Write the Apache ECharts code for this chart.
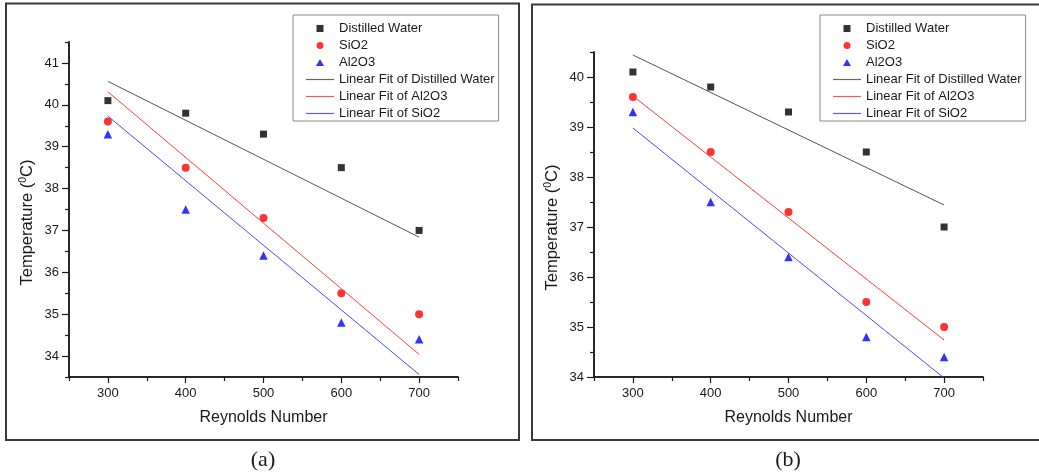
<!DOCTYPE html>
<html>
<head>
<meta charset="utf-8">
<title>Temperature vs Reynolds Number</title>
<script src="https://cdn.jsdelivr.net/npm/echarts@6/dist/echarts.min.js"></script>
<style>
  html, body { margin: 0; padding: 0; background: #fff; }
  #chart { width: 1039px; height: 473px; }
</style>
</head>
<body>
<div id="chart"></div>
<script>
// Measured outlet temperatures (°C) at each Reynolds number
const reynolds = [300, 400, 500, 600, 700];
const distilledWater = [40.1, 39.8, 39.3, 38.5, 37.0];
const sio2 = [39.6, 38.5, 37.3, 35.5, 35.0];
const al2o3 = [39.3, 37.5, 36.4, 34.8, 34.4];

// Linear-fit lines, given by their values at the two ends (Re = 300 and Re = 700)
const fitEnds = [300, 700];
const fitWaterA = [40.56, 36.84];
const fitRedA = [40.31, 34.04];
const fitBlueA = [39.73, 33.56];
const fitWaterB = [40.44, 37.44];
const fitRedB = [39.62, 34.74];
const fitBlueB = [38.98, 33.98];

// Tick positions
const xMajorTicks = [300, 400, 500, 600, 700];
const xMinorTicks = [250, 350, 450, 550, 650, 750];
const yMajorTicksA = [34, 35, 36, 37, 38, 39, 40, 41];
const yMinorTicksA = [33.5, 34.5, 35.5, 36.5, 37.5, 38.5, 39.5, 40.5, 41.5];
const yMajorTicksB = [34, 35, 36, 37, 38, 39, 40];
const yMinorTicksB = [34.5, 35.5, 36.5, 37.5, 38.5, 39.5, 40.5];

const legendNames = ['Distilled Water', 'SiO2', 'Al2O3',
  'Linear Fit of Distilled Water', 'Linear Fit of Al2O3', 'Linear Fit of SiO2'];
const panelCaptions = ['(a)', '(b)'];

const SANS = '"Liberation Sans", Arial, sans-serif';
const SERIF = '"Liberation Serif", "Times New Roman", serif';
const INK = '#1a1a1a';

// Legend glyphs: path icons keep their aspect, so markers stay square-ish
// inside the wide icon slot and fit lines become a thin full-width stroke.
const ICON_SQUARE = 'path://M0,0h10v10h-10z';
const ICON_CIRCLE = 'path://M0,5a5,5 0 1,0 10,0a5,5 0 1,0 -10,0z';
const ICON_TRIANGLE = 'path://M5.5,0L11,9.5L0,9.5z';
const ICON_LINE = 'path://M0,0h280v12h-280z';
const legendIcons = [ICON_SQUARE, ICON_CIRCLE, ICON_TRIANGLE, ICON_LINE, ICON_LINE, ICON_LINE];

const panels = [
  { grid: { left: 69, top: 42, width: 389, height: 335 }, yMin: 33.5, yMax: 41.5,
    yMajor: yMajorTicksA, yMinor: yMinorTicksA,
    fits: [fitWaterA, fitRedA, fitBlueA], legendLeft: 293, captionX: 263, frame: { x: 6, y: 3.5, width: 513, height: 436.5 } },
  { grid: { left: 594, top: 52, width: 389, height: 325 }, yMin: 34, yMax: 40.5,
    yMajor: yMajorTicksB, yMinor: yMinorTicksB,
    fits: [fitWaterB, fitRedB, fitBlueB], legendLeft: 820, captionX: 788, frame: { x: 532, y: 4.5, width: 520, height: 435.5 } }
];

const pairs = (xs, ys) => xs.map((x, i) => [x, ys[i]]);

const grids = [], xAxes = [], yAxes = [], series = [], legends = [], graphics = [];

panels.forEach((p, g) => {
  grids.push(Object.assign({ containLabel: false, outerBoundsMode: 'none' }, p.grid));

  const axisLine = { onZero: false, lineStyle: { color: INK, width: 1.5 } };
  const tickLine = { color: INK, width: 1.2 };

  // labelled axis with long ticks
  xAxes.push({
    type: 'value', gridIndex: g, position: 'bottom', min: 250, max: 750,
    axisLine: axisLine,
    axisTick: { customValues: xMajorTicks, length: 6, lineStyle: tickLine },
    axisLabel: { customValues: xMajorTicks, margin: 10, color: INK, fontSize: 13, fontFamily: SANS },
    splitLine: { show: false },
    name: 'Reynolds Number', nameLocation: 'middle', nameGap: 33,
    nameTextStyle: { fontSize: 16, color: INK, fontFamily: SANS }
  });
  // companion axis carrying the short in-between ticks
  xAxes.push({
    type: 'value', gridIndex: g, position: 'bottom', min: 250, max: 750,
    axisLine: axisLine,
    axisTick: { customValues: xMinorTicks, length: 4, lineStyle: tickLine },
    axisLabel: { show: false },
    splitLine: { show: false }
  });

  yAxes.push({
    type: 'value', gridIndex: g, position: 'left', min: p.yMin, max: p.yMax,
    axisLine: axisLine,
    axisTick: { customValues: p.yMajor, length: 7, lineStyle: tickLine },
    axisLabel: { customValues: p.yMajor, margin: 10, color: INK, fontSize: 13, fontFamily: SANS },
    splitLine: { show: false },
    name: 'Temperature ({sup|0}C)', nameLocation: 'middle', nameGap: 32,
    nameTextStyle: {
      fontSize: 16.5, color: INK, fontFamily: SANS, padding: [0, 26, 0, 0],
      rich: { sup: { fontSize: 10.5, color: INK, fontFamily: SANS, verticalAlign: 'top', padding: [0, 0, 8, 0] } }
    }
  });
  yAxes.push({
    type: 'value', gridIndex: g, position: 'left', min: p.yMin, max: p.yMax,
    axisLine: axisLine,
    axisTick: { customValues: p.yMinor, length: 4, lineStyle: tickLine },
    axisLabel: { show: false },
    splitLine: { show: false }
  });

  const xi = 2 * g, yi = 2 * g;
  series.push(
    { type: 'scatter', name: 'Distilled Water', xAxisIndex: xi, yAxisIndex: yi,
      data: pairs(reynolds, distilledWater), symbol: 'rect', symbolSize: 7, itemStyle: { color: '#000' } },
    { type: 'scatter', name: 'SiO2', xAxisIndex: xi, yAxisIndex: yi,
      data: pairs(reynolds, sio2), symbol: 'circle', symbolSize: 8, itemStyle: { color: '#ff0000' } },
    { type: 'scatter', name: 'Al2O3', xAxisIndex: xi, yAxisIndex: yi,
      data: pairs(reynolds, al2o3), symbol: 'triangle', symbolSize: 8.5, itemStyle: { color: '#0000ff' } },
    { type: 'line', name: 'Linear Fit of Distilled Water', xAxisIndex: xi, yAxisIndex: yi,
      data: pairs(fitEnds, p.fits[0]), symbol: 'none', lineStyle: { color: '#555', width: 1 }, itemStyle: { color: '#666' } },
    { type: 'line', name: 'Linear Fit of Al2O3', xAxisIndex: xi, yAxisIndex: yi,
      data: pairs(fitEnds, p.fits[1]), symbol: 'none', lineStyle: { color: '#ff3b3b', width: 1 }, itemStyle: { color: '#ff5555' } },
    { type: 'line', name: 'Linear Fit of SiO2', xAxisIndex: xi, yAxisIndex: yi,
      data: pairs(fitEnds, p.fits[2]), symbol: 'none', lineStyle: { color: '#4a4aff', width: 1 }, itemStyle: { color: '#5c5cff' } }
  );

  legends.push({
    orient: 'vertical', left: p.legendLeft, top: 15,
    data: legendNames.map((n, i) => ({ name: n, icon: legendIcons[i] })),
    selectedMode: false, symbolKeepAspect: true,
    backgroundColor: '#fff', borderColor: '#8c8c8c', borderWidth: 1,
    padding: [7, 4, 1, 13], itemWidth: 28, itemHeight: 7, itemGap: 4,
    textStyle: { fontSize: 13, color: INK, fontFamily: SANS }
  });

  graphics.push(
    { type: 'rect', shape: p.frame, style: { fill: 'none', stroke: '#3a3a3a', lineWidth: 2 }, silent: true },
    { type: 'text', x: p.captionX, y: 460,
      style: { text: panelCaptions[g], align: 'center', verticalAlign: 'middle', font: '22px ' + SERIF, fill: INK } }
  );
});

const chart = echarts.init(document.getElementById('chart'), null, { renderer: 'canvas' });
chart.setOption({
  animation: false,
  backgroundColor: '#fff',
  grid: grids,
  xAxis: xAxes,
  yAxis: yAxes,
  legend: legends,
  series: series,
  graphic: graphics
});
</script>
</body>
</html>
